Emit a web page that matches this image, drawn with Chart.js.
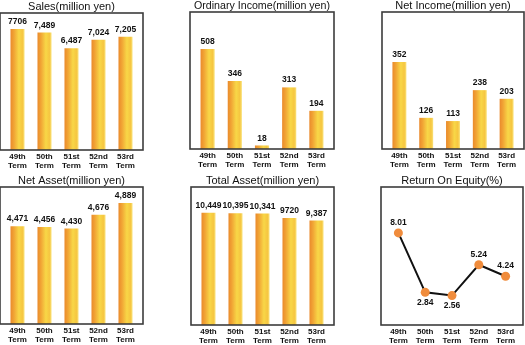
<!DOCTYPE html>
<html>
<head>
<meta charset="utf-8">
<script src="https://cdn.jsdelivr.net/npm/chart.js@4.4.1/dist/chart.umd.min.js"></script>
<style>
  html, body { margin:0; padding:0; background:#fff; width:525px; height:345px; overflow:hidden; position:relative; }
  canvas { position:absolute; }
</style>
</head>
<body>
<script>
// ---- data ----
const terms = [['49th','Term'],['50th','Term'],['51st','Term'],['52nd','Term'],['53rd','Term']];

const salesValues = [7706, 7489, 6487, 7024, 7205];
const salesLabels = ['7706', '7,489', '6,487', '7,024', '7,205'];

const ordinaryValues = [508, 346, 18, 313, 194];
const ordinaryLabels = ['508', '346', '18', '313', '194'];

const netIncomeValues = [352, 126, 113, 238, 203];
const netIncomeLabels = ['352', '126', '113', '238', '203'];

const netAssetValues = [4471, 4456, 4430, 4676, 4889];
const netAssetLabels = ['4,471', '4,456', '4,430', '4,676', '4,889'];

const totalAssetValues = [10449, 10395, 10341, 9720, 9387];
const totalAssetLabels = ['10,449', '10,395', '10,341', '9720', '9,387'];

const roeValues = [8.01, 2.84, 2.56, 5.24, 4.24];
const roeLabels = ['8.01', '2.84', '2.56', '5.24', '4.24'];

// ---- panels: box = outline of each plot frame ----
const panels = [
  { title: 'Sales(million yen)',          values: salesValues,      labels: salesLabels,      min: 0,     max: 8725,  box: [0, 12.5, 143, 150] },
  { title: 'Ordinary Income(million yen)', values: ordinaryValues,  labels: ordinaryLabels,   min: 0,     max: 696,   box: [190, 12, 334, 149] },
  { title: 'Net Income(million yen)',     values: netIncomeValues,  labels: netIncomeLabels,  min: 0,     max: 554,   box: [382, 12, 524, 149] },
  { title: 'Net Asset(million yen)',      values: netAssetValues,   labels: netAssetLabels,   min: 2700,  max: 5180,  box: [0, 187, 143, 324] },
  { title: 'Total Asset(million yen)',    values: totalAssetValues, labels: totalAssetLabels, min: -5000, max: 14000, box: [191, 187, 334, 325] },
  { title: 'Return On Equity(%)',         values: roeValues,        labels: roeLabels,        min: 0,     max: 12,    box: [381, 187, 523, 325], line: true }
];
const roeLabelSide = ['above', 'below', 'below', 'above', 'above'];

const FONT = '"Liberation Sans", Arial, sans-serif';
const TITLE_H = 13, AXIS_H = 22, MARGIN = 12, INSET = 4, BAR_PCT = 0.52;

function barGradient(c) {
    const chart = c.chart, xs = chart.scales.x;
    if (!xs || !chart.chartArea) return '#f2b53c';
    const cx = xs.getPixelForValue(c.dataIndex);
    const half = (xs.width / terms.length) * BAR_PCT / 2;
    const g = chart.ctx.createLinearGradient(cx - half, 0, cx + half, 0);
    g.addColorStop(0, '#ea8a2c');
    g.addColorStop(0.25, '#f1a535');
    g.addColorStop(0.6, '#f8d747');
    g.addColorStop(0.85, '#f6c640');
    g.addColorStop(1, '#f9e27a');
    return g;
}

const frame = {
    id: 'frame',
    afterDraw(chart) {
        const a = chart.chartArea, ctx = chart.ctx;
        ctx.save();
        ctx.strokeStyle = '#3c3c3c';
        ctx.lineWidth = 1.6;
        ctx.strokeRect(a.left - INSET, a.top, a.right - a.left + INSET * 2, a.bottom - a.top);
        ctx.restore();
    }
};

const valueLabels = {
    id: 'valueLabels',
    afterDatasetsDraw(chart) {
        const p = chart.options.plugins.valueLabels;
        const ctx = chart.ctx;
        ctx.save();
        ctx.font = 'bold 8.5px ' + FONT;
        ctx.fillStyle = '#111';
        ctx.textAlign = 'center';
        chart.getDatasetMeta(0).data.forEach(function(el, i) {
            if (p.line) {
                if (roeLabelSide[i] === 'above') { ctx.textBaseline = 'bottom'; ctx.fillText(p.texts[i], el.x, el.y - 6); }
                else { ctx.textBaseline = 'top'; ctx.fillText(p.texts[i], el.x, el.y + 6); }
            } else {
                ctx.textBaseline = 'bottom';
                ctx.fillText(p.texts[i], el.x, el.y - 3);
            }
        });
        ctx.restore();
    }
};

panels.forEach(function(p) {
    const [l, t, r, b] = p.box;
    const cv = document.createElement('canvas');
    const w = r - l + MARGIN * 2, h = b - t + TITLE_H + AXIS_H;
    cv.width = w; cv.height = h;
    cv.style.left = (l - MARGIN) + 'px';
    cv.style.top = (t - TITLE_H) + 'px';
    cv.style.width = w + 'px'; cv.style.height = h + 'px';
    document.body.appendChild(cv);

    const dataset = p.line ? {
        data: p.values,
        borderColor: '#111',
        borderWidth: 2,
        tension: 0,
        pointRadius: 4.5,
        pointBackgroundColor: '#f08c3c',
        pointBorderWidth: 0
    } : {
        data: p.values,
        backgroundColor: barGradient,
        borderWidth: 0,
        base: p.min,
        categoryPercentage: 1,
        barPercentage: BAR_PCT
    };

    new Chart(cv, {
        type: p.line ? 'line' : 'bar',
        data: { labels: terms, datasets: [dataset] },
        options: {
            responsive: false,
            animation: false,
            devicePixelRatio: 1,
            layout: { padding: { left: MARGIN + INSET, right: MARGIN + INSET, top: 0, bottom: 0 } },
            plugins: {
                legend: { display: false },
                tooltip: { enabled: false },
                title: {
                    display: true, text: p.title, color: '#111',
                    font: { family: FONT, size: 11, weight: 'normal', lineHeight: 1 },
                    padding: { top: 1, bottom: 1 }
                },
                valueLabels: { texts: p.labels, line: !!p.line }
            },
            scales: {
                x: {
                    offset: true,
                    grid: { display: false, drawTicks: false },
                    border: { display: false },
                    ticks: { color: '#111', padding: 3, autoSkip: false, maxRotation: 0,
                             font: { family: FONT, size: 8, weight: 'bold', lineHeight: 1.05 } },
                    afterFit: function(s) { s.height = AXIS_H; }
                },
                y: { display: false, min: p.min, max: p.max }
            }
        },
        plugins: [frame, valueLabels]
    });
});
</script>
</body>
</html>
